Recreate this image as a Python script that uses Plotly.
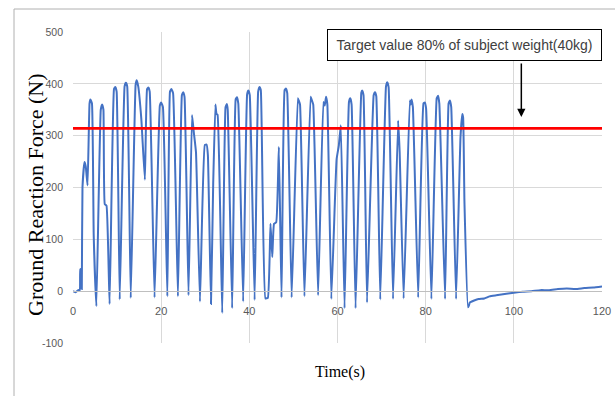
import plotly.graph_objects as go

# Ground reaction force recorded over a repeated squat / jump session
time_s = [
    0.0, 0.6, 1.2, 1.55, 1.65, 1.9, 2.0, 2.15, 2.6, 2.9, 3.3, 3.75, 3.95, 4.3, 4.7, 5.3,
    6.3, 6.6, 6.9, 7.2, 7.6, 8.3,
    9.3, 9.6, 9.9, 10.6,
    11.7, 12.0, 12.3, 13.1,
    14.2, 14.45, 14.8, 15.5, 16.3, 16.8, 17.1, 17.4, 18.5,
    19.7, 20.0, 20.4, 21.4,
    22.0, 22.3, 22.7, 23.8,
    24.7, 25.0, 25.3, 26.2,
    27.0, 27.4, 27.9, 28.8,
    29.9, 30.3, 30.6, 31.3,
    31.8, 32.3, 32.55, 32.8, 33.85,
    34.6, 34.9, 35.1, 36.1,
    36.9, 37.2, 37.5, 38.6,
    39.5, 39.8, 40.1, 41.2,
    42.0, 42.3, 42.6, 43.65, 44.2, 44.8, 45.2, 45.6, 46.1, 46.7, 47.3,
    48.0, 48.3, 48.6, 49.6,
    51.0, 51.2, 51.5, 52.5,
    53.9, 54.2, 54.5, 55.6,
    56.8, 57.1, 57.4, 57.7, 58.6,
    59.4, 59.8, 60.3, 60.75, 61.6,
    62.6, 62.9, 63.2, 64.1,
    65.4, 65.6, 65.9, 66.7,
    68.2, 68.5, 68.8, 69.7,
    71.0, 71.3, 71.6, 72.6,
    73.75, 74.1, 75.0,
    76.4, 76.6, 76.8, 77.1, 78.3,
    79.5, 79.8, 80.1, 81.3,
    82.5, 82.8, 83.1, 84.4,
    85.2, 85.5, 85.8, 86.9,
    87.9, 88.3, 88.5, 88.8, 89.6,
    89.8, 90.0, 91.0, 92.0, 93.3, 94.5, 96.0, 98.3, 100.0, 102.0, 104.0,
    106.0, 108.0, 110.0, 112.0, 114.0, 116.0, 118.0, 120.0,
]
force_n = [
    0, -2, 2, 2, 42, 42, 4, 200, 249, 240, 204, 362, 370, 362, 107, -29,
    350, 360, 350, 168, 165, -25,
    390, 394, 385, -16,
    395, 402, 395, -13,
    398, 407, 395, 332, 215, 390, 393, 385, -12,
    358, 364, 355, -10,
    385, 390, 382, -10,
    378, 384, 375, -8,
    340, 307, 268, -20,
    282, 283, 262, -25,
    207, 360, 342, 340, -42,
    355, 361, 350, -33,
    370, 374, 362, -20,
    380, 387, 378, -17,
    385, 394, 388, -14, -13, 130, 66, 130, 133, 278, -12,
    388, 391, 382, -12,
    372, 368, 360, -10,
    375, 368, 360, -8,
    365, 358, 375, 360, -15,
    171, 255, 281, 320, -33,
    365, 372, 360, -33,
    383, 387, 378, -22,
    378, 384, 376, -16,
    395, 403, 393, -15,
    329, 268, -14,
    368, 360, 370, 355, -12,
    362, 364, 352, -15,
    372, 377, 362, -15,
    362, 368, 355, -15,
    297, 342, 335, 171, -31,
    -28, -22, -18, -15, -14, -10, -8, -5, -3, -1, 0,
    2, 2, 4, 5, 4, 6, 7, 9,
]

# Target line: 80 % of a 40 kg subject's body weight
target_force = 314
target_span = [0, 120]

x_ticks = [0, 20, 40, 60, 80, 100, 120]
y_ticks = [-100, 0, 100, 200, 300, 400, 500]
y_tick_text = ["-100", "0", "100", "200", "300", "400", "500"]

sans = "Liberation Sans, Arial, sans-serif"
serif = "Liberation Serif, Times New Roman, serif"

fig = go.Figure()
fig.add_trace(go.Scatter(
    x=time_s, y=force_n, mode="lines",
    line=dict(color="#4472C4", width=2, shape="spline", smoothing=0.35),
    hoverinfo="x+y", showlegend=False,
))
fig.add_trace(go.Scatter(
    x=target_span, y=[target_force, target_force], mode="lines",
    line=dict(color="#FF0000", width=2.6),
    showlegend=False,
))

fig.update_xaxes(
    range=[0, 120], tickvals=x_ticks, ticks="",
    showgrid=True, gridcolor="#d9d9d9", gridwidth=1,
    zeroline=False, automargin=False,
    anchor="free", position=1 / 6,
    showline=True, linecolor="#bfbfbf", linewidth=1,
    tickfont=dict(family=sans, size=11, color="#595959"),
    ticklabelstandoff=10,
)
fig.update_yaxes(
    range=[-100, 500], tickvals=y_ticks, ticktext=y_tick_text, ticks="",
    showgrid=True, gridcolor="#d9d9d9", gridwidth=1,
    zeroline=True, zerolinecolor="#bfbfbf", zerolinewidth=1,
    automargin=False,
    tickfont=dict(family=sans, size=10.5, color="#595959"),
    ticklabelstandoff=9,
)

W, H = 615, 396
ml, mr, mt, mb = 73, 13, 32, 53
pw, ph = W - ml - mr, H - mt - mb


def px(xp):
    return (xp - ml) / pw


def py(yp):
    return (H - mb - yp) / ph


annotations = [
    dict(text="Ground Reaction Force (N)", textangle=-90,
         xref="paper", yref="paper", x=px(35), y=py(195),
         xanchor="center", yanchor="middle", showarrow=False,
         font=dict(family=serif, size=22, color="#000000")),
    dict(text="Time(s)", xref="paper", yref="paper", x=px(340), y=py(372),
         xanchor="center", yanchor="middle", showarrow=False,
         font=dict(family=serif, size=16, color="#000000")),
    dict(text="Target value 80% of subject weight(40kg)",
         xref="x", yref="y", x=88.75, y=474,
         xanchor="center", yanchor="middle", showarrow=False,
         width=265, height=22, borderpad=4,
         bordercolor="#000000", borderwidth=1, bgcolor="#ffffff",
         font=dict(family=sans, size=14, color="#404040")),
    dict(text="", xref="x", yref="y", x=101.7, y=336,
         axref="x", ayref="y", ax=101.7, ay=442,
         showarrow=True, arrowhead=2, arrowsize=1.1, arrowwidth=1.5,
         arrowcolor="#000000"),
]

# Chart frame around the whole figure
shapes = [
    dict(type="line", xref="paper", yref="paper",
         x0=px(14), x1=px(14), y0=py(9), y1=py(400),
         line=dict(color="#b0b0b0", width=1)),
    dict(type="line", xref="paper", yref="paper",
         x0=px(14), x1=px(620), y0=py(9), y1=py(9),
         line=dict(color="#b0b0b0", width=1)),
]

fig.update_layout(
    width=W, height=H,
    margin=dict(l=ml, r=mr, t=mt, b=mb, autoexpand=False),
    paper_bgcolor="#ffffff", plot_bgcolor="#ffffff",
    annotations=annotations, shapes=shapes,
    showlegend=False,
)

fig.write_html("out.html")
